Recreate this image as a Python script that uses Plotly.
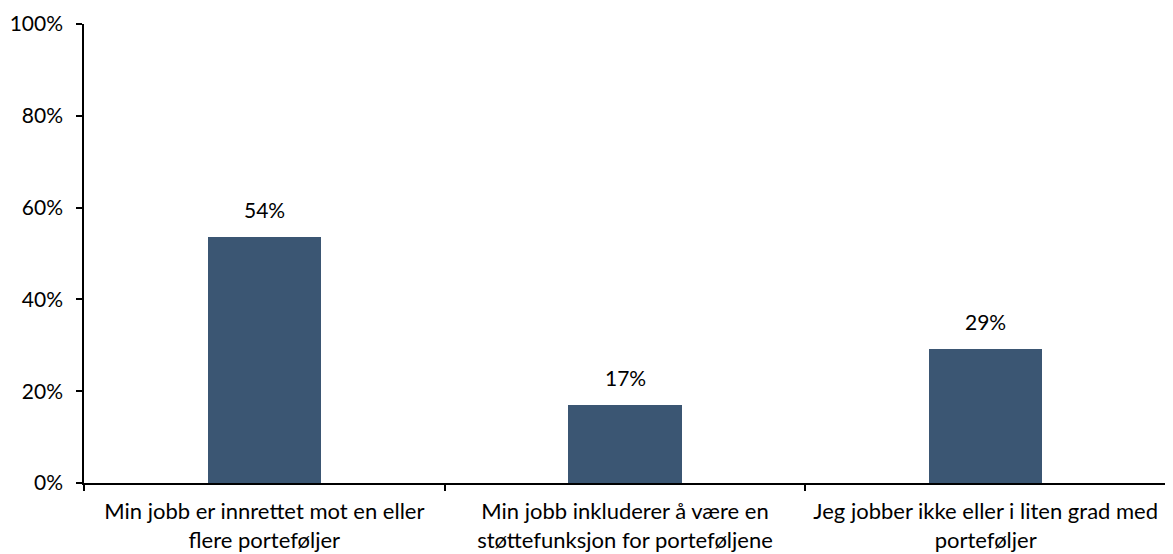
import plotly.graph_objects as go

# Data
categories = [
    "Min jobb er innrettet mot en eller<br>flere porteføljer",
    "Min jobb inkluderer å være en<br>støttefunksjon for porteføljene",
    "Jeg jobber ikke eller i liten grad med<br>porteføljer",
]
shares = [0.537, 0.171, 0.293]
labels = [f"{v:.0%}" for v in shares]

BAR_COLOR = "#3b5673"
FONT = "Lato, 'Liberation Sans', sans-serif"

fig = go.Figure()
fig.add_trace(go.Bar(
    x=categories,
    y=shares,
    marker_color=BAR_COLOR,
    marker_line_width=0,
    width=0.315,
))

# value labels above bars
for cat, val, lab in zip(categories, shares, labels):
    fig.add_annotation(
        x=cat, y=val, text=lab, showarrow=False,
        yanchor="bottom", yshift=13,
        font=dict(size=21, color="black", family=FONT),
    )

# page body has an 8px margin, so the figure is shrunk by that amount
fig.update_layout(
    width=1165, height=546,
    paper_bgcolor="white", plot_bgcolor="white",
    font=dict(family=FONT, size=22, color="black"),
    margin=dict(l=76, r=7, t=16, b=71),
    showlegend=False,
    bargap=0,
)

fig.update_yaxes(
    range=[0, 1], tickvals=[0, 0.2, 0.4, 0.6, 0.8, 1.0], tickformat=".0%",
    tickfont=dict(size=21),
    showgrid=False, zeroline=False, automargin=False,
    showline=True, linecolor="black", linewidth=1.5,
    ticks="outside", ticklen=6, tickcolor="black", tickwidth=1.5,
    ticklabelstandoff=9,
)
fig.update_xaxes(
    showgrid=False, automargin=False,
    showline=True, linecolor="black", linewidth=1.5,
    ticks="outside", tickson="boundaries", ticklen=6, tickcolor="black", tickwidth=1.5,
    ticklabelstandoff=8,
)

fig.write_html("out.html")
